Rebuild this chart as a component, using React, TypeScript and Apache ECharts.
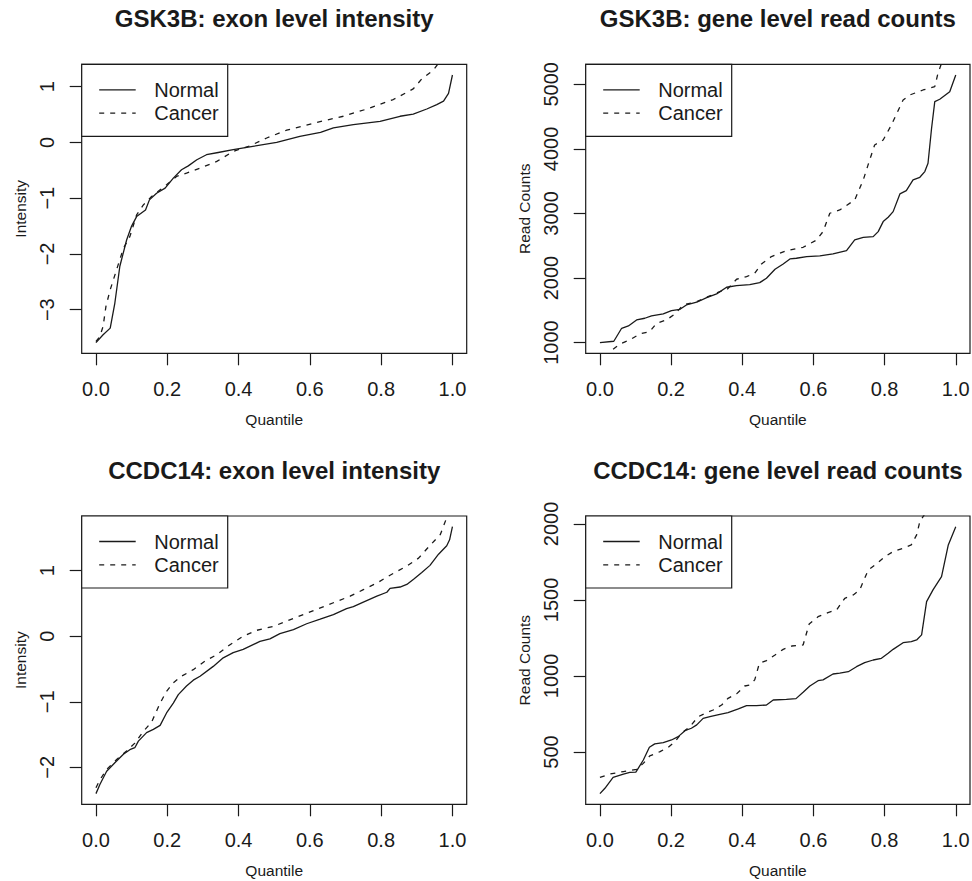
import React, { useEffect, useRef } from "react";
import * as echarts from "echarts";

// ---------- data ----------
const panelTitles = [
  "GSK3B: exon level intensity",
  "GSK3B: gene level read counts",
  "CCDC14: exon level intensity",
  "CCDC14: gene level read counts",
];
const yAxisNames = ["Intensity", "Read Counts", "Intensity", "Read Counts"];
const xAxisName = "Quantile";
const legendNames = ["Normal", "Cancer"];
const xTicks = [0, 0.2, 0.4, 0.6, 0.8, 1.0];
const yTicksGsk3bExon = [-3, -2, -1, 0, 1];
const yTicksGsk3bGene = [1000, 2000, 3000, 4000, 5000];
const yTicksCcdc14Exon = [-2, -1, 0, 1];
const yTicksCcdc14Gene = [500, 1000, 1500, 2000];

const gsk3bExonNormal = [
  [0, -3.59], [0.02, -3.45], [0.04, -3.33], [0.053, -2.88], [0.067, -2.22], [0.086, -1.75],
  [0.1, -1.5], [0.114, -1.33], [0.139, -1.21], [0.15, -1.03], [0.17, -0.91], [0.194, -0.82],
  [0.217, -0.64], [0.24, -0.49], [0.259, -0.42], [0.283, -0.31], [0.31, -0.22], [0.343, -0.18],
  [0.385, -0.13], [0.44, -0.07], [0.507, 0], [0.572, 0.11], [0.63, 0.18], [0.666, 0.26],
  [0.722, 0.32], [0.797, 0.38], [0.853, 0.47], [0.89, 0.51], [0.928, 0.6], [0.956, 0.68],
  [0.975, 0.74], [0.989, 0.88], [1, 1.21],
];
const gsk3bExonCancer = [
  [0, -3.57], [0.011, -3.48], [0.02, -3.3], [0.028, -2.94], [0.04, -2.64], [0.058, -2.28],
  [0.077, -1.9], [0.095, -1.69], [0.114, -1.3], [0.133, -1.12], [0.156, -0.97], [0.18, -0.85],
  [0.198, -0.76], [0.226, -0.61], [0.254, -0.55], [0.292, -0.46], [0.339, -0.34], [0.385, -0.16],
  [0.432, -0.06], [0.479, 0.08], [0.535, 0.22], [0.619, 0.36], [0.694, 0.47], [0.76, 0.6],
  [0.834, 0.77], [0.89, 0.96], [0.914, 1.14], [0.947, 1.3], [0.97, 1.5], [1, 1.85],
];
const gsk3bGeneNormal = [
  [0, 1000], [0.039, 1021], [0.061, 1222], [0.08, 1258], [0.103, 1351], [0.126, 1377],
  [0.145, 1413], [0.178, 1444], [0.201, 1495], [0.225, 1516], [0.243, 1583], [0.272, 1625],
  [0.3, 1697], [0.328, 1754], [0.356, 1857], [0.384, 1883], [0.421, 1898], [0.449, 1929],
  [0.468, 1996], [0.492, 2135], [0.515, 2218], [0.534, 2295], [0.552, 2306], [0.581, 2332],
  [0.618, 2342], [0.655, 2373], [0.693, 2425], [0.716, 2590], [0.74, 2631], [0.768, 2641],
  [0.782, 2719], [0.796, 2874], [0.81, 2941], [0.824, 3028], [0.843, 3302], [0.861, 3354],
  [0.88, 3519], [0.899, 3560], [0.913, 3648], [0.922, 3777], [0.932, 4319], [0.941, 4732],
  [0.955, 4768], [0.983, 4886], [1, 5144],
];
const gsk3bGeneCancer = [
  [0.037, 897], [0.056, 979], [0.084, 1041], [0.112, 1134], [0.14, 1170], [0.159, 1299],
  [0.187, 1351], [0.211, 1444], [0.234, 1583], [0.272, 1635], [0.309, 1723], [0.337, 1790],
  [0.356, 1815], [0.384, 1981], [0.412, 2022], [0.435, 2074], [0.454, 2218], [0.482, 2332],
  [0.524, 2425], [0.571, 2476], [0.609, 2590], [0.627, 2719], [0.646, 3003], [0.674, 3054],
  [0.716, 3209], [0.74, 3519], [0.758, 3828], [0.772, 4061], [0.796, 4138], [0.819, 4370],
  [0.852, 4757], [0.871, 4835], [0.908, 4912], [0.941, 4963], [0.95, 5170], [0.96, 5325],
  [1, 5800],
];
const ccdc14ExonNormal = [
  [0, -2.4], [0.011, -2.26], [0.03, -2.06], [0.053, -1.93], [0.077, -1.8], [0.095, -1.73],
  [0.109, -1.7], [0.119, -1.6], [0.142, -1.47], [0.161, -1.42], [0.18, -1.36], [0.198, -1.17],
  [0.217, -1.02], [0.231, -0.89], [0.254, -0.76], [0.273, -0.67], [0.292, -0.61], [0.329, -0.46],
  [0.357, -0.33], [0.385, -0.25], [0.413, -0.2], [0.46, -0.08], [0.488, -0.04], [0.516, 0.04],
  [0.554, 0.1], [0.591, 0.19], [0.629, 0.26], [0.666, 0.33], [0.703, 0.42], [0.722, 0.45],
  [0.75, 0.52], [0.788, 0.61], [0.816, 0.67], [0.825, 0.73], [0.853, 0.75], [0.872, 0.79],
  [0.891, 0.87], [0.914, 0.97], [0.937, 1.08], [0.961, 1.25], [0.984, 1.38], [0.992, 1.47],
  [1, 1.67],
];
const ccdc14ExonCancer = [
  [0, -2.31], [0.011, -2.19], [0.03, -2.03], [0.058, -1.88], [0.086, -1.75], [0.109, -1.63],
  [0.133, -1.45], [0.156, -1.31], [0.18, -1.02], [0.198, -0.84], [0.217, -0.71], [0.24, -0.61],
  [0.273, -0.51], [0.306, -0.38], [0.339, -0.28], [0.376, -0.13], [0.413, 0], [0.451, 0.09],
  [0.498, 0.15], [0.535, 0.23], [0.572, 0.31], [0.619, 0.41], [0.666, 0.51], [0.713, 0.61],
  [0.75, 0.71], [0.788, 0.81], [0.825, 0.93], [0.872, 1.07], [0.905, 1.19], [0.933, 1.36],
  [0.966, 1.55], [0.982, 1.78], [1, 2.0],
];
const ccdc14GeneNormal = [
  [0, 226], [0.014, 261], [0.037, 333], [0.066, 355], [0.084, 366], [0.101, 368],
  [0.122, 447], [0.139, 531], [0.154, 553], [0.178, 561], [0.201, 579], [0.22, 601],
  [0.239, 640], [0.257, 656], [0.272, 678], [0.29, 721], [0.309, 732], [0.337, 748],
  [0.36, 759], [0.389, 783], [0.412, 805], [0.44, 805], [0.468, 809], [0.487, 842],
  [0.524, 846], [0.551, 851], [0.571, 893], [0.59, 934], [0.613, 969], [0.627, 974],
  [0.655, 1013], [0.674, 1018], [0.698, 1028], [0.721, 1061], [0.744, 1088], [0.768, 1105],
  [0.791, 1116], [0.81, 1149], [0.824, 1175], [0.852, 1219], [0.875, 1226], [0.89, 1237],
  [0.904, 1270], [0.918, 1489], [0.936, 1566], [0.96, 1654], [0.979, 1862], [1, 1982],
];
const ccdc14GeneCancer = [
  [0, 333], [0.028, 355], [0.066, 371], [0.103, 386], [0.122, 425], [0.14, 474],
  [0.169, 502], [0.192, 531], [0.211, 568], [0.229, 623], [0.253, 667], [0.276, 732],
  [0.3, 759], [0.318, 776], [0.342, 809], [0.36, 853], [0.384, 882], [0.407, 934],
  [0.421, 941], [0.435, 974], [0.448, 1083], [0.468, 1101], [0.492, 1138], [0.515, 1175],
  [0.539, 1197], [0.571, 1204], [0.588, 1342], [0.613, 1390], [0.641, 1417], [0.665, 1434],
  [0.688, 1511], [0.712, 1533], [0.73, 1566], [0.754, 1697], [0.777, 1737], [0.801, 1785],
  [0.824, 1818], [0.852, 1840], [0.875, 1862], [0.89, 1928], [0.899, 2015], [0.95, 2200],
  [1, 2400],
];

// ---------- layout / style ----------
const FONT = '"Liberation Sans", Arial, Helvetica, sans-serif';
const INK = "#1a1a1a";
const gridBoxes = [
  { left: 81.7, top: 64.3, width: 385, height: 289 },
  { left: 585.7, top: 64.3, width: 384.3, height: 289 },
  { left: 81.7, top: 516, width: 385, height: 288.3 },
  { left: 585.7, top: 516, width: 384.3, height: 288.3 },
];

const fmtNum = (v: number) => (v < 0 ? "\u2212" + String(-v) : String(v));

function rRange(arr: number[][]) {
  const ys = arr.map((p) => p[1]);
  const lo = Math.min(...ys);
  const hi = Math.max(...ys);
  const ext = (hi - lo) * 0.04;
  return [lo - ext, hi + ext];
}

export default function App() {
  const ref = useRef<HTMLDivElement>(null);
  useEffect(() => {
    if (!ref.current) return;
    const chart = echarts.init(ref.current, null, { renderer: "svg" });
    const normals = [gsk3bExonNormal, gsk3bGeneNormal, ccdc14ExonNormal, ccdc14GeneNormal];
    const cancers = [gsk3bExonCancer, gsk3bGeneCancer, ccdc14ExonCancer, ccdc14GeneCancer];
    const yTicks = [yTicksGsk3bExon, yTicksGsk3bGene, yTicksCcdc14Exon, yTicksCcdc14Gene];

    const grid = gridBoxes.map((g) => ({
      ...g,
      show: true,
      borderColor: INK,
      borderWidth: 1.2,
      backgroundColor: "transparent",
      containLabel: false,
      outerBoundsMode: "none",
    }));

    const xAxis = gridBoxes.map((_, i) => ({
      type: "value",
      gridIndex: i,
      position: "bottom",
      min: -0.04,
      max: 1.04,
      splitLine: { show: false },
      axisLine: { show: false, onZero: false },
      axisTick: { show: true, inside: false, length: 12, customValues: xTicks, lineStyle: { color: INK, width: 1.2 } },
      axisLabel: {
        customValues: xTicks,
        formatter: (v: number) => v.toFixed(1),
        fontFamily: FONT,
        fontSize: 20,
        color: INK,
        margin: 26,
      },
      name: xAxisName,
      nameLocation: "middle",
      nameGap: 58,
      nameTextStyle: { fontFamily: FONT, fontSize: 15.5, color: INK },
    }));

    const yAxis = gridBoxes.map((_, i) => {
      const [lo, hi] = rRange(normals[i]);
      return {
        type: "value",
        gridIndex: i,
        position: "left",
        min: lo,
        max: hi,
        splitLine: { show: false },
        axisLine: { show: false, onZero: false },
        axisTick: { show: true, inside: false, length: 12, customValues: yTicks[i], lineStyle: { color: INK, width: 1.2 } },
        axisLabel: {
          customValues: yTicks[i],
          formatter: (v: number) => fmtNum(v),
          rotate: 90,
          fontFamily: FONT,
          fontSize: 20,
          color: INK,
          margin: 25,
        },
        name: yAxisNames[i],
        nameLocation: "middle",
        nameRotate: 90,
        nameGap: 53,
        nameTextStyle: { fontFamily: FONT, fontSize: 15.5, color: INK },
      };
    });

    const series: any[] = [];
    gridBoxes.forEach((_, i) => {
      series.push({
        type: "line",
        name: legendNames[0],
        xAxisIndex: i,
        yAxisIndex: i,
        data: normals[i],
        showSymbol: false,
        symbol: "none",
        clip: true,
        lineStyle: { color: INK, width: 1.3, type: "solid" },
      });
      series.push({
        type: "line",
        name: legendNames[1],
        xAxisIndex: i,
        yAxisIndex: i,
        data: cancers[i],
        showSymbol: false,
        symbol: "none",
        clip: true,
        lineStyle: { color: INK, width: 1.3, type: [5, 6] },
      });
    });

    const title = gridBoxes.map((g, i) => ({
      text: panelTitles[i],
      left: g.left + g.width / 2,
      top: g.top - 58,
      textAlign: "center",
      padding: 0,
      textStyle: { fontFamily: FONT, fontSize: 24, fontWeight: "bold", color: INK },
    }));

    const graphic: any[] = [];
    gridBoxes.forEach((g) => {
      const x = g.left;
      const y = g.top;
      graphic.push({
        type: "rect",
        shape: { x, y, width: 146, height: 72 },
        style: { fill: "#fff", stroke: INK, lineWidth: 1.2 },
        z: 10,
      });
      legendNames.forEach((nm, k) => {
        const cy = y + 25.5 + k * 23.4;
        graphic.push({
          type: "line",
          shape: { x1: x + 17.5, y1: cy, x2: x + 54, y2: cy },
          style: { stroke: INK, lineWidth: 1.3, lineDash: k === 0 ? null : [5, 6] },
          z: 11,
        });
        graphic.push({
          type: "text",
          x: x + 72.5,
          y: cy,
          style: { text: nm, fontFamily: FONT, fontSize: 20, fill: INK, textVerticalAlign: "middle", verticalAlign: "middle" },
          z: 11,
        });
      });
    });

    chart.setOption({
      animation: false,
      backgroundColor: "#fff",
      title,
      grid,
      xAxis,
      yAxis,
      series,
      graphic,
    });
    return () => chart.dispose();
  }, []);
  return (
    <div
      ref={ref}
      style={{ position: "fixed", left: 0, top: 0, width: 972, height: 881 }}
    />
  );
}
